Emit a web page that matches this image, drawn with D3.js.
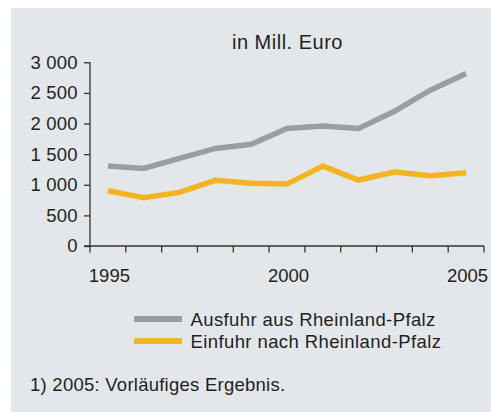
<!DOCTYPE html>
<html><head><meta charset="utf-8">
<script src="https://cdn.jsdelivr.net/npm/d3@7"></script>
<style>
html,body{margin:0;padding:0;background:#fff;}
svg{display:block;}
text{font-family:"Liberation Sans",Arial,Helvetica,sans-serif;fill:#231f20;}
</style></head>
<body>
<script>
const years = [1995,1996,1997,1998,1999,2000,2001,2002,2003,2004,2005];
const ausfuhr = [1305,1267,1430,1593,1660,1920,1958,1920,2200,2545,2817];
const einfuhr = [902,788,876,1072,1023,1011,1305,1077,1207,1147,1196];
const yTicks = [0,500,1000,1500,2000,2500,3000];
const xLabels = [1995,2000,2005];
const seriesNames = ["Ausfuhr aus Rheinland-Pfalz","Einfuhr nach Rheinland-Pfalz"];
const colors = ["#999ea2","#f3b421"];
const title = "in Mill. Euro";
const footnote = "1) 2005: Vorläufiges Ergebnis.";

const W=491,H=412;
const svg=d3.select("body").append("svg").attr("width",W).attr("height",H);
svg.append("rect").attr("x",11).attr("y",8).attr("width",W-11).attr("height",H-8).attr("fill","#e4e7ea");

const x=d3.scaleBand().domain(years).range([90,484]);
const y=d3.scaleLinear().domain([0,3000]).range([246,62.3]);

const fmt=v=>d3.format(",")(v).replace(/,/g," ");

// y axis
const ya=svg.append("g").attr("transform","translate(90,0)")
 .call(d3.axisLeft(y).tickValues(yTicks).tickFormat(fmt).tickSize(6).tickPadding(6.5));
ya.select(".domain").remove();
ya.selectAll("line").attr("stroke","#333").attr("stroke-width",1.3);
ya.selectAll("text").attr("font-size",18.5).attr("letter-spacing",0.2).attr("dx",0.2)
  .attr("font-family","Liberation Sans, Arial, sans-serif").attr("fill","#231f20");
svg.append("line").attr("x1",90).attr("x2",90).attr("y1",y(3000)).attr("y2",246).attr("stroke","#333").attr("stroke-width",1.3);

// x axis with boundary ticks
const bounds=years.map(d=>x(d)).concat([x.range()[1]]);
svg.append("line").attr("x1",84).attr("x2",484).attr("y1",246).attr("y2",246).attr("stroke","#333").attr("stroke-width",1.3);
svg.selectAll(".xt").data(bounds).enter().append("line")
 .attr("x1",d=>d).attr("x2",d=>d).attr("y1",246).attr("y2",252.5).attr("stroke","#333").attr("stroke-width",1.3);
svg.selectAll(".xl").data(xLabels).enter().append("text")
 .attr("x",d=>x(d)+x.bandwidth()/2+1.5).attr("y",282).attr("text-anchor","middle")
 .attr("font-size",18.5).text(d=>d);

svg.append("text").attr("x",287.5).attr("y",49).attr("text-anchor","middle")
 .attr("font-size",20).attr("letter-spacing",0.5).text(title);

const line=d3.line().x((d,i)=>x(years[i])+x.bandwidth()/2).y(d=>y(d));
[ausfuhr,einfuhr].forEach((s,i)=>{
 svg.append("path").attr("d",line(s)).attr("fill","none").attr("stroke",colors[i]).attr("stroke-width",5.5).attr("stroke-linejoin","miter");
});

// legend
seriesNames.forEach((n,i)=>{
 const ly=319+i*22;
 svg.append("line").attr("x1",134).attr("x2",182).attr("y1",ly).attr("y2",ly).attr("stroke",colors[i]).attr("stroke-width",6);
 svg.append("text").attr("x",190.5).attr("y",ly+6.5).attr("font-size",18.5).attr("letter-spacing",0.4).text(n);
});
svg.append("text").attr("x",30).attr("y",391).attr("font-size",18.5).attr("letter-spacing",0.25).text(footnote);
</script>
</body></html>
